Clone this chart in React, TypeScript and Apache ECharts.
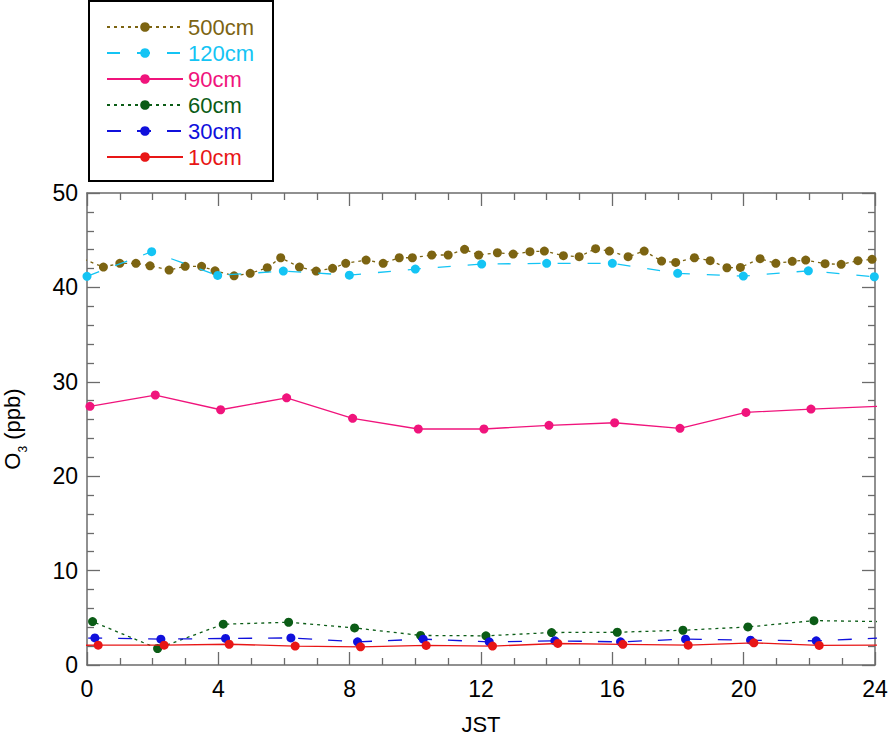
import React, { useEffect, useRef } from "react";
import * as echarts from "echarts";

// Diurnal composite of O3 at several heights (JST hours). Points outside 0-24 are the wrapped
// neighbours (previous / next day) and are clipped by the axis range.
const names = ["500cm", "120cm", "90cm", "60cm", "30cm", "10cm"];
const colors = ["#7c6412", "#14c4f4", "#f0147c", "#0b5c16", "#1010dc", "#e81616"];

const t500 = [-0.09, 0.5, 1.0, 1.49, 1.92, 2.5, 2.99, 3.49, 3.9, 4.48, 4.97, 5.49, 5.9, 6.47, 6.98, 7.48, 7.88, 8.5, 9.02, 9.51, 9.91, 10.5, 11.0, 11.5, 11.93, 12.5, 12.98, 13.49, 13.93, 14.51, 14.99, 15.49, 15.91, 16.48, 16.97, 17.5, 17.93, 18.5, 18.98, 19.49, 19.9, 20.5, 20.98, 21.48, 21.89, 22.48, 22.97, 23.48, 23.91, 24.5];
const v500 = [42.97, 42.15, 42.55, 42.55, 42.29, 41.84, 42.23, 42.23, 41.76, 41.23, 41.49, 42.08, 43.14, 42.15, 41.73, 42.02, 42.55, 42.9, 42.55, 43.14, 43.14, 43.43, 43.43, 44.03, 43.43, 43.67, 43.53, 43.78, 43.85, 43.36, 43.25, 44.1, 43.85, 43.25, 43.85, 42.79, 42.65, 43.14, 42.83, 42.08, 42.12, 43.04, 42.55, 42.76, 42.9, 42.51, 42.44, 42.83, 42.97, 42.15];

const t120 = [0.0, 1.97, 3.98, 5.98, 7.99, 10.0, 12.02, 14.0, 16.0, 17.99, 19.99, 21.97, 23.98];
const v120 = [41.17, 43.78, 41.27, 41.73, 41.3, 41.94, 42.47, 42.55, 42.55, 41.49, 41.2, 41.76, 41.13];

const t90 = [-1.95, 0.09, 2.08, 4.07, 6.08, 8.09, 10.09, 12.09, 14.07, 16.07, 18.06, 20.07, 22.05, 24.09];
const v90 = [27.11, 27.4, 28.6, 27.04, 28.3, 26.13, 25.0, 25.0, 25.39, 25.66, 25.07, 26.76, 27.11, 27.4];

const t60 = [-1.86, 0.17, 2.15, 4.15, 6.14, 8.15, 10.16, 12.15, 14.15, 16.15, 18.15, 20.13, 22.14, 24.17];
const v60 = [4.7, 4.6, 1.75, 4.32, 4.53, 3.93, 3.13, 3.09, 3.44, 3.47, 3.68, 4.03, 4.7, 4.6];

const t30 = [-1.79, 0.24, 2.25, 4.22, 6.21, 8.24, 10.24, 12.25, 14.25, 16.25, 18.23, 20.21, 22.21, 24.24];
const v30 = [2.56, 2.87, 2.74, 2.81, 2.87, 2.45, 2.74, 2.45, 2.56, 2.45, 2.74, 2.63, 2.56, 2.87];

const t10 = [-1.7, 0.34, 2.35, 4.33, 6.34, 8.33, 10.33, 12.35, 14.34, 16.32, 18.31, 20.31, 22.3, 24.34];
const v10 = [2.07, 2.1, 2.1, 2.2, 2.0, 1.93, 2.07, 2.0, 2.28, 2.19, 2.1, 2.35, 2.07, 2.1];

const xTicks = { min: 0, max: 24, interval: 4 };
const yTicks = { min: 0, max: 50, interval: 10 };

const times = [t500, t120, t90, t60, t30, t10];
const values = [v500, v120, v90, v60, v30, v10];
const dashes: any[] = [[3, 4], [13, 17], "solid", [3, 4], [14, 16], "solid"];

const FONT = "'Liberation Sans', Arial, Helvetica, sans-serif";
const AXIS_COLOR = "#6b6b6b";

export default function App() {
  const ref = useRef<HTMLDivElement>(null);
  useEffect(() => {
    if (!ref.current) return;
    const chart = echarts.init(ref.current, undefined, { renderer: "svg" });
    const axisLine = { show: true, onZero: false, lineStyle: { color: AXIS_COLOR, width: 1.5 } };
    const axisTick = { show: true, inside: true, length: 13, lineStyle: { color: AXIS_COLOR, width: 1.3 } };
    const minorTickX = { show: true, splitNumber: 4, length: 7, lineStyle: { color: AXIS_COLOR, width: 1.3 } };
    const minorTickY = { show: true, splitNumber: 5, length: 7, lineStyle: { color: AXIS_COLOR, width: 1.3 } };
    const series = names.map((n, i) => ({
      name: n,
      type: "line",
      xAxisIndex: 0,
      yAxisIndex: 0,
      data: times[i].map((t, j) => [t, values[i][j]]),
      symbol: "circle",
      symbolSize: 9,
      showAllSymbol: true,
      clip: true,
      itemStyle: { color: colors[i] },
      lineStyle: { color: colors[i], width: 1.3, type: dashes[i] },
      emphasis: { disabled: true },
      z: 2 + i,
    }));
    chart.setOption({
      animation: false,
      textStyle: { fontFamily: FONT },
      grid: { left: 87, right: 13, top: 193, bottom: 72, containLabel: false, outerBoundsMode: "none" },
      legend: {
        orient: "vertical",
        left: 106,
        top: 16,
        padding: 0,
        itemWidth: 76,
        itemHeight: 12,
        itemGap: 4,
        selectedMode: false,
        data: names.map((n, i) => ({ name: n, textStyle: { color: colors[i] } })),
        textStyle: { fontSize: 22, fontFamily: FONT, lineHeight: 22 },
      },
      graphic: [
        {
          type: "rect",
          shape: { x: 89, y: 1, width: 184, height: 180 },
          style: { fill: "none", stroke: "#000", lineWidth: 2 },
          z: 10,
        },
      ],
      xAxis: [
        {
          type: "value",
          ...xTicks,
          position: "bottom",
          axisLine,
          axisTick,
          minorTick: minorTickX,
          splitLine: { show: false },
          minorSplitLine: { show: false },
          axisLabel: { fontSize: 23, color: "#000", margin: 12, fontFamily: FONT },
          name: "JST",
          nameLocation: "middle",
          nameGap: 48,
          nameTextStyle: { fontSize: 22, lineHeight: 22, color: "#000", fontFamily: FONT },
        },
        {
          type: "value",
          ...xTicks,
          position: "top",
          axisLine,
          axisTick,
          minorTick: minorTickX,
          splitLine: { show: false },
          axisLabel: { show: false },
        },
      ],
      yAxis: [
        {
          type: "value",
          ...yTicks,
          position: "left",
          axisLine,
          axisTick,
          minorTick: minorTickY,
          splitLine: { show: false },
          minorSplitLine: { show: false },
          axisLabel: { fontSize: 23, color: "#000", margin: 9, fontFamily: FONT },
          name: "{a|O}{b|3}{a| (ppb)}",
          nameLocation: "middle",
          nameGap: 58,
          nameTextStyle: {
            rich: {
              a: { fontSize: 22, color: "#000", fontFamily: FONT, lineHeight: 34, verticalAlign: "middle" },
              b: { fontSize: 12, color: "#000", fontFamily: FONT, lineHeight: 12, verticalAlign: "bottom" },
            },
          },
        },
        {
          type: "value",
          ...yTicks,
          position: "right",
          axisLine,
          axisTick,
          minorTick: minorTickY,
          splitLine: { show: false },
          axisLabel: { show: false },
        },
      ],
      series,
    });
    return () => chart.dispose();
  }, []);
  return (
    <div
      ref={ref}
      style={{ position: "absolute", left: 0, top: 0, width: 888, height: 737, background: "#fff" }}
    />
  );
}
